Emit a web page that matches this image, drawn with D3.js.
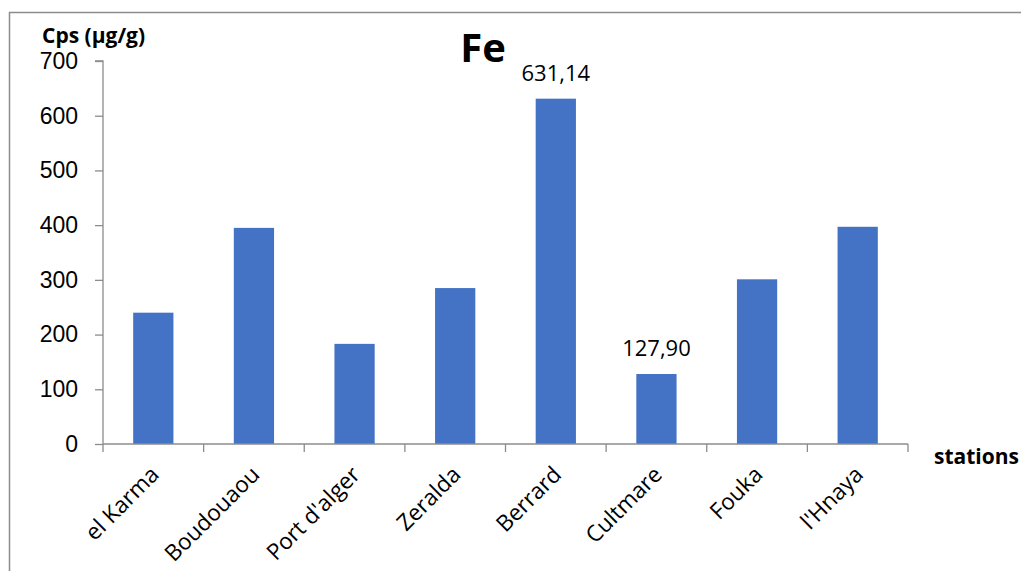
<!DOCTYPE html>
<html>
<head>
<meta charset="utf-8">
<script src="https://cdn.jsdelivr.net/npm/d3@7"></script>
<style>
  html, body { margin: 0; padding: 0; background: #fff; }
  svg { display: block; }
</style>
</head>
<body>
<svg id="chart" width="1021" height="571"></svg>
<script>
// Fe concentration per sampling station
const stations = ["el Karma", "Boudouaou", "Port d'alger", "Zeralda", "Berrard", "Cultmare", "Fouka", "l'Hnaya"];
const feValues = [240, 395, 183, 285, 631.14, 127.90, 301, 397];
const labelled = ["Berrard", "Cultmare"];
const yTicks = [0, 100, 200, 300, 400, 500, 600, 700];

const svg = d3.select("#chart");
const W = 1021, H = 571;
const margin = { left: 103, right: W - 908, top: 61, bottom: H - 444 };

// frame (top and left edges only)
svg.append("path")
  .attr("d", `M9.5,${H} V12.5 H${W}`)
  .attr("fill", "none")
  .attr("stroke", "#8c8c8c")
  .attr("stroke-width", 1.5);

const x = d3.scaleBand()
  .domain(stations)
  .range([margin.left, W - margin.right])
  .paddingInner(0.6)
  .paddingOuter(0.3);

const y = d3.scaleLinear()
  .domain([0, 700])
  .range([H - margin.bottom, margin.top]);

// bars
svg.append("g")
  .selectAll("rect")
  .data(stations)
  .join("rect")
  .attr("x", d => x(d))
  .attr("width", x.bandwidth())
  .attr("y", (d, i) => y(feValues[i]))
  .attr("height", (d, i) => y(0) - y(feValues[i]))
  .attr("fill", "#4472c4");

// y axis
const yAxis = svg.append("g")
  .attr("transform", `translate(${margin.left},0)`)
  .call(d3.axisLeft(y).tickValues(yTicks).tickSize(8).tickPadding(17).tickFormat(d3.format("d")));
yAxis.select(".domain").attr("stroke", "#8c8c8c").attr("stroke-width", 1.3).attr("d", `M-8,${y(700)}H0V${y(0)}`);
yAxis.selectAll(".tick line").attr("stroke", "#8c8c8c").attr("stroke-width", 1.3);
yAxis.selectAll(".tick text")
  .attr("font-family", "Liberation Sans, Arial, sans-serif")
  .attr("font-size", 23)
  .attr("fill", "#000");

// x axis with boundary ticks between categories
const xAxisG = svg.append("g").attr("transform", `translate(0,${y(0)})`);
xAxisG.append("line")
  .attr("x1", margin.left).attr("x2", W - margin.right)
  .attr("stroke", "#8c8c8c").attr("stroke-width", 1.3);
const bounds = d3.range(stations.length + 1).map(i => margin.left + i * (W - margin.left - margin.right) / stations.length);
xAxisG.selectAll("line.bound")
  .data(bounds)
  .join("line")
  .attr("class", "bound")
  .attr("x1", d => d).attr("x2", d => d)
  .attr("y1", 0).attr("y2", 8)
  .attr("stroke", "#8c8c8c").attr("stroke-width", 1.3);

xAxisG.selectAll("text.cat")
  .data(stations)
  .join("text")
  .attr("class", "cat")
  .attr("transform", d => `translate(${x(d) + x.bandwidth() / 2 + 7},${32}) rotate(-45)`)
  .attr("text-anchor", "end")
  .attr("font-family", "Open Sans, sans-serif")
  .attr("font-size", 22.5)
  .attr("fill", "#000")
  .text(d => d);

// value labels
svg.append("g")
  .selectAll("text")
  .data(stations.filter(s => labelled.includes(s)))
  .join("text")
  .attr("x", d => x(d) + x.bandwidth() / 2)
  .attr("y", d => y(feValues[stations.indexOf(d)]) - 18)
  .attr("text-anchor", "middle")
  .attr("font-family", "Open Sans, sans-serif")
  .attr("font-size", 22)
  .attr("fill", "#000")
  .text(d => d3.format(".2f")(feValues[stations.indexOf(d)]).replace(".", ","));

// titles
svg.append("text")
  .attr("x", 483).attr("y", 62)
  .attr("text-anchor", "middle")
  .attr("font-family", "Open Sans, sans-serif")
  .attr("font-weight", "bold")
  .attr("font-size", 40)
  .text("Fe");

svg.append("text")
  .attr("x", 42).attr("y", 43)
  .attr("font-family", "Open Sans, sans-serif")
  .attr("font-weight", "bold")
  .attr("font-size", 21)
  .text("Cps (µg/g)");

svg.append("text")
  .attr("x", 934).attr("y", 464)
  .attr("font-family", "Open Sans, sans-serif")
  .attr("font-weight", "bold")
  .attr("font-size", 21)
  .text("stations");
</script>
</body>
</html>
